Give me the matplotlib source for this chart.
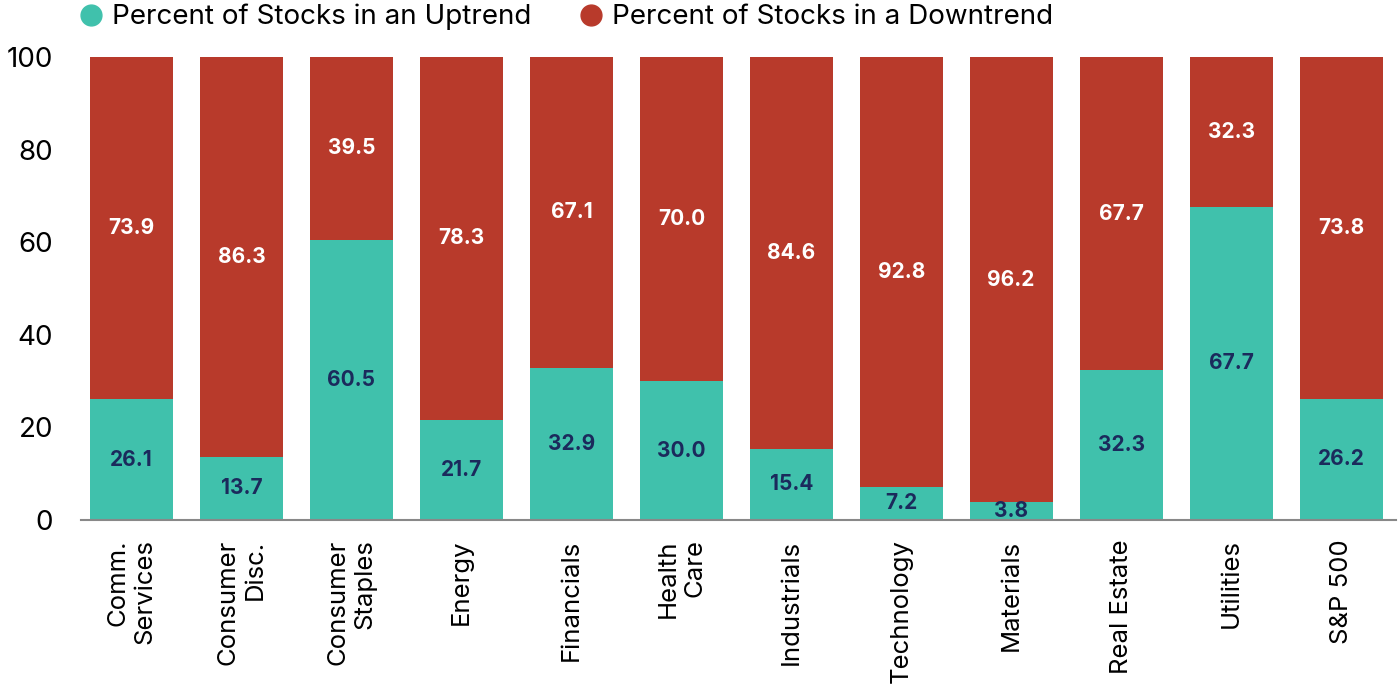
import matplotlib
matplotlib.use("Agg")
import matplotlib.pyplot as plt
from matplotlib.lines import Line2D
import numpy as np

plt.rcParams['font.family'] = ['Inter', 'DejaVu Sans']

sectors = ["Comm.\nServices", "Consumer\nDisc.", "Consumer\nStaples", "Energy",
           "Financials", "Health\nCare", "Industrials", "Technology",
           "Materials", "Real Estate", "Utilities", "S&P 500"]
uptrend = [26.1, 13.7, 60.5, 21.7, 32.9, 30.0, 15.4, 7.2, 3.8, 32.3, 67.7, 26.2]
downtrend = [73.9, 86.3, 39.5, 78.3, 67.1, 70.0, 84.6, 92.8, 96.2, 67.7, 32.3, 73.8]

green = "#40C1AC"
red = "#B83A2B"
navy = "#1B2A5C"

fig = plt.figure(figsize=(13.99, 6.89), dpi=100)
ax = fig.add_axes([81/1399, 169/689, (1396-81)/1399, (520-57)/689])

x = np.arange(len(sectors))
w = 0.755
ax.bar(x, uptrend, width=w, color=green)
ax.bar(x, downtrend, width=w, bottom=uptrend, color=red)

for i in range(len(x)):
    u = uptrend[i]
    d = downtrend[i]
    ax.text(x[i], u/2, f"{u:.1f}", ha='center', va='center', color=navy,
            fontsize=15, fontweight='bold')
    ax.text(x[i], u + d/2, f"{d:.1f}", ha='center', va='center', color='white',
            fontsize=15, fontweight='bold')

ax.set_xlim(-0.46, 11.5)
ax.set_ylim(0, 100)
ax.set_yticks([0, 20, 40, 60, 80, 100])
ax.set_xticks(x)
ax.set_xticklabels(sectors, rotation=90, fontsize=18.5, ha='center', va='top',
                   multialignment='right')
ax.tick_params(axis='both', length=0)
ax.tick_params(axis='x', pad=14)
ax.tick_params(axis='y', pad=20, labelsize=20)
for s in ['top', 'right', 'left']:
    ax.spines[s].set_visible(False)
ax.spines['bottom'].set_color('#888888')
ax.spines['bottom'].set_linewidth(1.5)

handles = [Line2D([], [], marker='o', linestyle='none', markersize=15, color=green),
           Line2D([], [], marker='o', linestyle='none', markersize=15, color=red)]
fig.legend(handles, ["Percent of Stocks in an Uptrend", "Percent of Stocks in a Downtrend"],
           loc='center left', bbox_to_anchor=(80/1399, 1 - 17/689), ncol=2,
           frameon=False, fontsize=20, handlelength=0.8, handletextpad=0.35,
           columnspacing=1.75, borderpad=0, borderaxespad=0)

fig.savefig("out.png", dpi=100)
